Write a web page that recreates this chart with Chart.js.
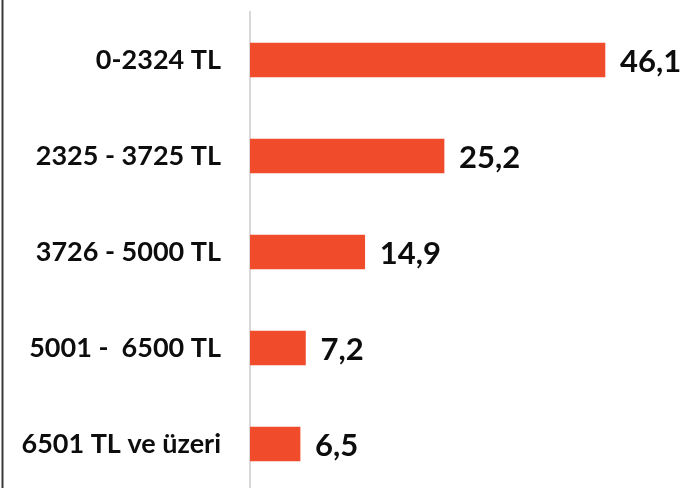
<!DOCTYPE html>
<html>
<head>
<meta charset="utf-8">
<script src="https://cdn.jsdelivr.net/npm/chart.js@4/dist/chart.umd.min.js"></script>
<style>
html,body{margin:0;padding:0;background:#fff;overflow:hidden;}
#wrap{position:relative;width:685px;height:492px;}
</style>
</head>
<body>
<div id="wrap"><canvas id="c"></canvas></div>
<script>
const categories = ["0-2324 TL", "2325 - 3725 TL", "3726 - 5000 TL", "5001 -  6500 TL", "6501 TL ve üzeri"];
const values = [46.1, 25.2, 14.9, 7.2, 6.5];
const valueLabels = ["46,1", "25,2", "14,9", "7,2", "6,5"];

const FONT = "Lato, 'Open Sans', sans-serif";

const valueLabelPlugin = {
  id: 'valueLabels',
  afterDatasetsDraw(chart) {
    const ctx = chart.ctx;
    const meta = chart.getDatasetMeta(0);
    ctx.save();
    ctx.font = "bold 31px " + FONT;
    ctx.fillStyle = "#0d0d0d";
    ctx.textAlign = "left";
    ctx.textBaseline = "alphabetic";
    meta.data.forEach((bar, i) => {
      ctx.fillText(valueLabels[i], bar.x + 15, bar.y + 12);
    });
    ctx.restore();
  }
};

const leftBorderPlugin = {
  id: 'leftBorder',
  afterDraw(chart) {
    const ctx = chart.ctx;
    ctx.save();
    ctx.strokeStyle = "#3a3a3a";
    ctx.lineWidth = 2;
    ctx.beginPath();
    ctx.moveTo(2.5, 0);
    ctx.lineTo(2.5, chart.height);
    ctx.stroke();
    ctx.restore();
  }
};

new Chart(document.getElementById('c'), {
  type: 'bar',
  data: {
    labels: categories,
    datasets: [{
      data: values,
      backgroundColor: "#F04C2C",
      borderWidth: 0,
      barThickness: 34
    }]
  },
  options: {
    indexAxis: 'y',
    responsive: true,
    maintainAspectRatio: false,
    animation: false,
    layout: { padding: { top: 12, bottom: 0, left: 0, right: 50 } },
    plugins: { legend: { display: false }, tooltip: { enabled: false } },
    scales: {
      x: {
        display: false,
        min: 0,
        max: 50
      },
      y: {
        afterFit(scale) {
          scale.width = 250;
          scale.paddingTop = 0;
          scale.paddingBottom = 0;
        },
        grid: { display: false, drawTicks: false },
        border: { display: true, color: "#d9d9d9", width: 2 },
        ticks: {
          padding: 29,
          color: "#0d0d0d",
          font: { family: FONT, size: 27, weight: 'bold' }
        }
      }
    }
  },
  plugins: [valueLabelPlugin, leftBorderPlugin]
});
</script>
</body>
</html>
